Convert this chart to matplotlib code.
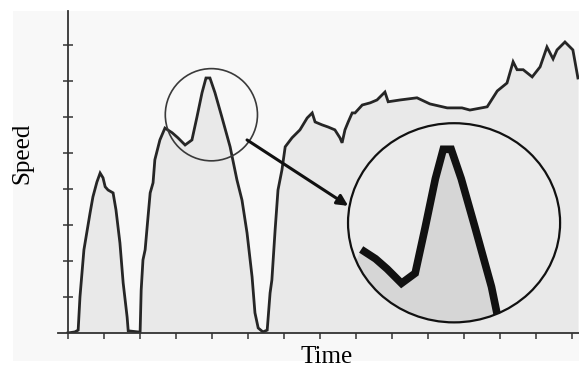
import matplotlib.pyplot as plt
import numpy as np
from matplotlib.patches import Circle, Ellipse, Rectangle

# speed trace (time, speed)
time = [0.00, 0.20, 0.29, 0.34, 0.45, 0.62, 0.70, 0.81, 0.90, 0.98, 1.04, 1.12, 1.26, 1.34,
        1.45, 1.54, 1.65, 1.68, 1.95, 2.01, 2.04, 2.09, 2.15, 2.23, 2.29, 2.37, 2.42, 2.56,
        2.70, 2.90, 3.06, 3.26, 3.45, 3.59, 3.73, 3.84, 3.95, 4.09, 4.28, 4.51, 4.70, 4.84,
        4.98, 5.12, 5.20, 5.29, 5.42, 5.54, 5.62, 5.67, 5.76, 5.84, 5.95, 6.04, 6.23, 6.45,
        6.65, 6.79, 6.87, 7.06, 7.23, 7.42, 7.56, 7.62, 7.70, 7.79, 7.90, 7.98, 8.18, 8.40,
        8.59, 8.81, 8.90, 9.23, 9.70, 10.06, 10.54, 10.95, 11.17, 11.65, 11.93, 12.20, 12.37,
        12.48, 12.65, 12.90, 13.12, 13.31, 13.48, 13.59, 13.81, 14.03, 14.17]
speed = [0.00, 0.03, 0.08, 1.00, 2.31, 3.33, 3.78, 4.19, 4.44, 4.31, 4.06, 3.97, 3.89, 3.42,
         2.50, 1.39, 0.44, 0.06, 0.03, 0.00, 1.19, 2.03, 2.31, 3.22, 3.89, 4.17, 4.81, 5.36,
         5.69, 5.56, 5.42, 5.22, 5.36, 6.00, 6.67, 7.08, 7.08, 6.67, 6.00, 5.17, 4.25, 3.69,
         2.78, 1.56, 0.56, 0.14, 0.03, 0.08, 1.11, 1.47, 2.86, 3.97, 4.53, 5.17, 5.42, 5.64,
         5.97, 6.11, 5.86, 5.78, 5.72, 5.64, 5.42, 5.28, 5.64, 5.86, 6.11, 6.11, 6.33, 6.39,
         6.47, 6.69, 6.42, 6.47, 6.53, 6.36, 6.25, 6.25, 6.19, 6.28, 6.72, 6.94, 7.53,
         7.31, 7.31, 7.11, 7.39, 7.94, 7.61, 7.86, 8.08, 7.86, 7.08]

x_ticks = list(range(0, 15))
y_ticks = list(range(1, 9))

# zoom: small circle on the peak, big circle showing it magnified
small_c = (3.99, 6.06)
small_r = 1.28
big_c = (10.73, 3.06)
big_w, big_h = 5.89, 5.53
mag = 2.0
zoom_from, zoom_to = 2.70, 5.0

line_col = '#262626'

fig = plt.figure(figsize=(5.79, 3.68), dpi=100)
fig.patches.append(Rectangle((0.022, 0.019), 0.978, 0.951, transform=fig.transFigure,
                             facecolor='#f8f8f8', edgecolor='none', zorder=-5))
ax = fig.add_axes([58 / 579, 35 / 368, 521 / 579, 322 / 368])
ax.set_facecolor('#f8f8f8')

t = np.array(time)
v = np.array(speed)

ax.fill_between(t, v, 0, color='#e9e9e9', lw=0, zorder=1)
ax.plot(t, v, color=line_col, lw=2.0, zorder=3, solid_joinstyle='miter')

ax.set_xlim(-0.27, 14.2)
ax.set_ylim(0, 8.94)
ax.spines['left'].set_position(('data', 0))
for s in ['top', 'right']:
    ax.spines[s].set_visible(False)
for s in ['left', 'bottom']:
    ax.spines[s].set_color('#333333')
    ax.spines[s].set_linewidth(1.3)
    ax.spines[s].set_zorder(4)

ax.set_xticks(x_ticks)
ax.set_yticks(y_ticks)
ax.set_xticklabels([])
ax.set_yticklabels([])
ax.tick_params(axis='x', direction='out', length=4.5, width=1.1, color='#333333')
ax.tick_params(axis='y', direction='inout', length=7.5, width=1.1, color='#333333')

# small circle
ax.add_patch(Circle(small_c, small_r, facecolor='none', edgecolor='#3a3a3a', lw=1.2, zorder=5))

# big circle with magnified view
big = Ellipse(big_c, big_w, big_h, facecolor='#ebebeb', edgecolor='none', zorder=5)
ax.add_patch(big)
xm = big_c[0] + (t - small_c[0]) * mag
ym = big_c[1] + (v - small_c[1]) * mag
fb = ax.fill_between(xm, ym, big_c[1] - big_h, color='#d6d6d6', lw=0, zorder=6)
fb.set_clip_path(big)
sel = (t >= zoom_from) & (t <= zoom_to)
ln, = ax.plot(xm[sel], ym[sel], color='#111111', lw=5.5, zorder=7,
              solid_capstyle='butt', solid_joinstyle='miter')
ln.set_clip_path(big)
ax.add_patch(Ellipse(big_c, big_w, big_h, facecolor='none', edgecolor='#111111', lw=1.6, zorder=8))

# arrow from small to big circle
ax.annotate('', xy=(7.79, 3.53), xytext=(4.98, 5.36),
            arrowprops=dict(arrowstyle='-|>', color='#111111', lw=2.2, mutation_scale=16,
                            shrinkA=0, shrinkB=0), zorder=9)

fig.text(22 / 579, 1 - 153 / 368, 'Speed', rotation=90, ha='center', va='center',
         family='Liberation Serif', fontsize=18)
fig.text(327 / 579, 1 - 357 / 368, 'Time', ha='center', va='center',
         family='Liberation Serif', fontsize=18)

fig.savefig('out.png', dpi=100, facecolor='white')
